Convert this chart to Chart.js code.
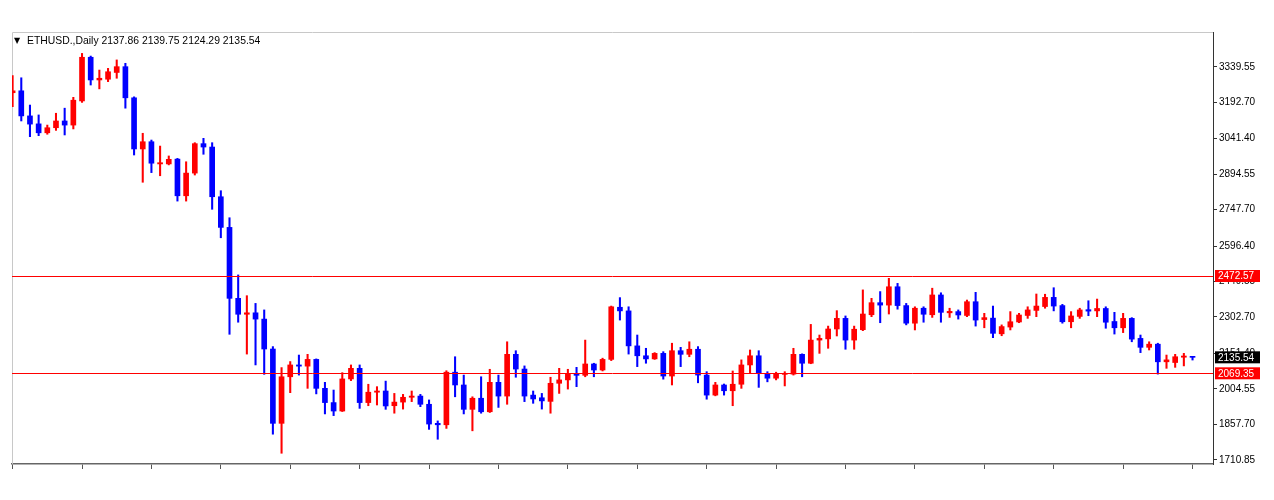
<!DOCTYPE html>
<html>
<head>
<meta charset="utf-8">
<script src="https://cdn.jsdelivr.net/npm/chart.js@4.4.0/dist/chart.umd.min.js"></script>
<style>
  html, body { margin: 0; padding: 0; background: #fff; }
  #wrap { width: 1274px; height: 500px; }
</style>
</head>
<body>
<div id="wrap"><canvas id="chart" width="1274" height="500"></canvas></div>
<script>
// ETHUSD daily candles (oldest first)
const opens = [
  3232, 3240, 3136, 3103, 3066, 3087, 3115, 3098, 3198, 3379,
  3285, 3288, 3316, 3340, 3211, 2999, 3029, 2937, 2937, 2957,
  2805, 2899, 3021, 3007, 2801, 2674, 2380, 2314, 2320, 2294,
  2170, 1862, 2055, 2104, 2099, 2127, 2007, 1948, 1913, 2046,
  2090, 1948, 1991, 1996, 1935, 1950, 1970, 1975, 1941, 1862,
  1856, 2074, 2021, 1920, 1966, 1910, 2032, 1975, 2148, 2087,
  1979, 1968, 1953, 2028, 2042, 2066, 2061, 2108, 2083, 2127,
  2343, 2328, 2183, 2142, 2129, 2152, 2058, 2163, 2148, 2169,
  2062, 1979, 2021, 1997, 2024, 2104, 2142, 2066, 2049, 2065,
  2066, 2148, 2111, 2207, 2212, 2253, 2297, 2207, 2250, 2312,
  2362, 2352, 2428, 2350, 2277, 2339, 2312, 2394, 2320, 2325,
  2309, 2366, 2292, 2298, 2233, 2261, 2282, 2309, 2330, 2346,
  2384, 2350, 2283, 2305, 2333, 2328, 2338, 2284, 2258, 2297,
  2214, 2177, 2190, 2117, 2114, 2136, 2137.86
];
const highs = [
  3303, 3294, 3181, 3140, 3098, 3147, 3168, 3213, 3395, 3384,
  3326, 3333, 3368, 3354, 3215, 3064, 3036, 3011, 2970, 2960,
  2946, 3025, 3043, 3025, 2826, 2714, 2477, 2391, 2359, 2332,
  2180, 2093, 2118, 2145, 2148, 2129, 2032, 2000, 2072, 2104,
  2104, 2024, 2014, 2037, 1986, 1982, 1996, 1982, 1959, 1872,
  2080, 2138, 2062, 1972, 2055, 2086, 2062, 2200, 2163, 2100,
  1996, 1986, 2053, 2090, 2086, 2094, 2207, 2111, 2132, 2348,
  2383, 2345, 2228, 2173, 2155, 2159, 2194, 2177, 2200, 2180,
  2076, 2032, 2025, 2079, 2125, 2166, 2163, 2076, 2074, 2076,
  2173, 2150, 2272, 2228, 2265, 2329, 2307, 2265, 2415, 2380,
  2408, 2463, 2442, 2359, 2345, 2345, 2422, 2403, 2339, 2332,
  2373, 2405, 2318, 2348, 2270, 2325, 2318, 2345, 2398, 2397,
  2424, 2355, 2325, 2339, 2370, 2377, 2345, 2322, 2318, 2300,
  2228, 2200, 2194, 2145, 2148, 2152, 2139.75
];
const lows = [
  3174, 3115, 3050, 3054, 3060, 3076, 3057, 3082, 3192, 3264,
  3248, 3278, 3292, 3168, 2974, 2861, 2901, 2888, 2933, 2783,
  2783, 2891, 2977, 2749, 2631, 2231, 2281, 2149, 2104, 2065,
  1817, 1738, 1989, 2062, 2007, 1984, 1901, 1894, 1911, 2039,
  1924, 1935, 1938, 1920, 1904, 1921, 1952, 1931, 1837, 1796,
  1841, 1972, 1901, 1831, 1904, 1907, 1928, 1941, 2053, 1952,
  1945, 1921, 1904, 1986, 2004, 2014, 2055, 2055, 2079, 2122,
  2290, 2149, 2097, 2111, 2127, 2045, 2021, 2097, 2138, 2030,
  1962, 1976, 1979, 1935, 2007, 2072, 2011, 2034, 2042, 2017,
  2062, 2055, 2109, 2152, 2173, 2224, 2169, 2169, 2246, 2304,
  2279, 2315, 2335, 2270, 2249, 2281, 2301, 2281, 2301, 2294,
  2304, 2265, 2258, 2217, 2225, 2249, 2279, 2297, 2304, 2339,
  2328, 2277, 2258, 2297, 2308, 2304, 2256, 2232, 2238, 2200,
  2155, 2166, 2066, 2090, 2094, 2100, 2124.29
];
const closes = [
  3240, 3136, 3102, 3066, 3087, 3115, 3098, 3201, 3379, 3285,
  3292, 3319, 3340, 3211, 2999, 3029, 2940, 2942, 2956, 2805,
  2899, 3021, 3007, 2801, 2674, 2380, 2314, 2320, 2294, 2170,
  1862, 2055, 2104, 2099, 2127, 2007, 1948, 1913, 2046, 2090,
  1948, 1991, 1996, 1934, 1950, 1970, 1975, 1941, 1859, 1856,
  2074, 2021, 1920, 1966, 1910, 2032, 1975, 2148, 2087, 1975,
  1963, 1955, 2028, 2042, 2065, 2061, 2108, 2083, 2127, 2345,
  2328, 2183, 2142, 2129, 2152, 2058, 2163, 2148, 2169, 2062,
  1979, 2021, 1997, 2024, 2104, 2142, 2069, 2049, 2065, 2068,
  2148, 2111, 2207, 2214, 2253, 2297, 2207, 2252, 2315, 2362,
  2352, 2428, 2350, 2277, 2339, 2314, 2394, 2322, 2326, 2311,
  2366, 2290, 2300, 2235, 2263, 2283, 2311, 2332, 2348, 2384,
  2348, 2283, 2307, 2332, 2327, 2338, 2281, 2258, 2297, 2211,
  2177, 2190, 2117, 2125, 2138, 2141, 2135.54
];

// price scale labels as printed on the right
const priceTicks = [3339.55, 3192.70, 3041.40, 2894.55, 2747.70, 2596.40,
                    2449.55, 2302.70, 2151.40, 2004.55, 1857.70, 1710.85];
// horizontal levels drawn on the chart
const levels = [2472.57, 2069.35];
const titleText = "ETHUSD.,Daily 2137.86 2139.75 2124.29 2135.54";
const lastPrice = 2135.54;

const UP = "#ff0000", DOWN = "#0000ff";
const FONT = '"Liberation Sans", Arial, sans-serif';

const idx = opens.map((_, i) => i);
const isUp = idx.map(i => closes[i] >= opens[i]);
const barTicks = idx.filter(i => i % 8 === 0);

const wickData = idx.map(i => ({ x: i, y: [lows[i], highs[i]] }));
const bodyData = idx.map(i => ({ x: i, y: [opens[i], closes[i]] }));

const decor = {
  id: "decor",
  beforeDatasetsDraw(chart) {
    const { ctx, chartArea: a } = chart;
    ctx.save();
    ctx.strokeStyle = "#c8c8c8";
    ctx.lineWidth = 1;
    ctx.beginPath();
    ctx.moveTo(a.left + 0.5, a.bottom);
    ctx.lineTo(a.left + 0.5, a.top + 0.5);
    ctx.lineTo(a.right, a.top + 0.5);
    ctx.stroke();
    ctx.restore();
  },
  afterDatasetsDraw(chart) {
    const { ctx, chartArea: a, scales: { y } } = chart;
    ctx.save();
    ctx.strokeStyle = "#ff0000";
    ctx.lineWidth = 1;
    levels.forEach(v => {
      const py = Math.round(y.getPixelForValue(v)) + 0.5;
      ctx.beginPath();
      ctx.moveTo(a.left, py);
      ctx.lineTo(a.right, py);
      ctx.stroke();
    });
    ctx.restore();
  },
  afterDraw(chart) {
    const { ctx, chartArea: a, scales: { y } } = chart;
    ctx.save();
    // title
    ctx.fillStyle = "#000";
    ctx.textBaseline = "middle";
    ctx.font = '8px "DejaVu Sans", sans-serif';
    ctx.fillText("\u25BC", 14, 41);
    ctx.font = "10.4px " + FONT;
    ctx.fillText(titleText, 27, 41);

    // price boxes on the scale
    const box = (v, bg) => {
      const py = y.getPixelForValue(v);
      ctx.fillStyle = bg;
      ctx.fillRect(a.right + 2, py - 6, 45, 12);
      ctx.fillStyle = "#fff";
      ctx.font = "10px " + FONT;
      ctx.textBaseline = "middle";
      ctx.fillText(v.toFixed(2), a.right + 5, py + 0.5);
    };
    levels.forEach(v => box(v, "#ff0000"));
    box(lastPrice, "#000000");
    ctx.restore();
  }
};

new Chart(document.getElementById("chart"), {
  type: "bar",
  data: {
    datasets: [
      {
        data: wickData,
        backgroundColor: isUp.map(u => u ? UP : DOWN),
        barThickness: 1.4,
        grouped: false,
        borderWidth: 0,
        order: 2
      },
      {
        data: bodyData,
        backgroundColor: isUp.map(u => u ? UP : DOWN),
        barThickness: 5,
        minBarLength: 1,
        grouped: false,
        borderWidth: 0,
        order: 1
      }
    ]
  },
  options: {
    responsive: false,
    animation: false,
    layout: { padding: { left: 12, top: 32, right: 0, bottom: 0 } },
    plugins: { legend: { display: false }, tooltip: { enabled: false } },
    scales: {
      x: {
        type: "linear",
        min: -0.07,
        max: 138.36,
        offset: false,
        afterFit(s) { s.height = 36; },
        afterBuildTicks(s) { s.ticks = barTicks.map(v => ({ value: v })); },
        ticks: { autoSkip: false, callback: () => "", padding: 0 },
        grid: { drawOnChartArea: false, drawTicks: true, tickLength: 5, color: "#555", offset: false },
        border: { display: true, color: "#666", width: 1.5 }
      },
      y: {
        position: "right",
        min: 1693.5,
        max: 3483.7,
        afterFit(s) { s.width = 61; },
        afterBuildTicks(s) { s.ticks = priceTicks.map(v => ({ value: v })); },
        ticks: {
          autoSkip: false,
          padding: 2,
          color: "#000",
          font: { family: FONT, size: 10 },
          callback: v => v.toFixed(2)
        },
        grid: { drawOnChartArea: false, drawTicks: true, tickLength: 4, color: "#333" },
        border: { display: true, color: "#333", width: 1 }
      }
    }
  },
  plugins: [decor]
});
</script>
</body>
</html>
